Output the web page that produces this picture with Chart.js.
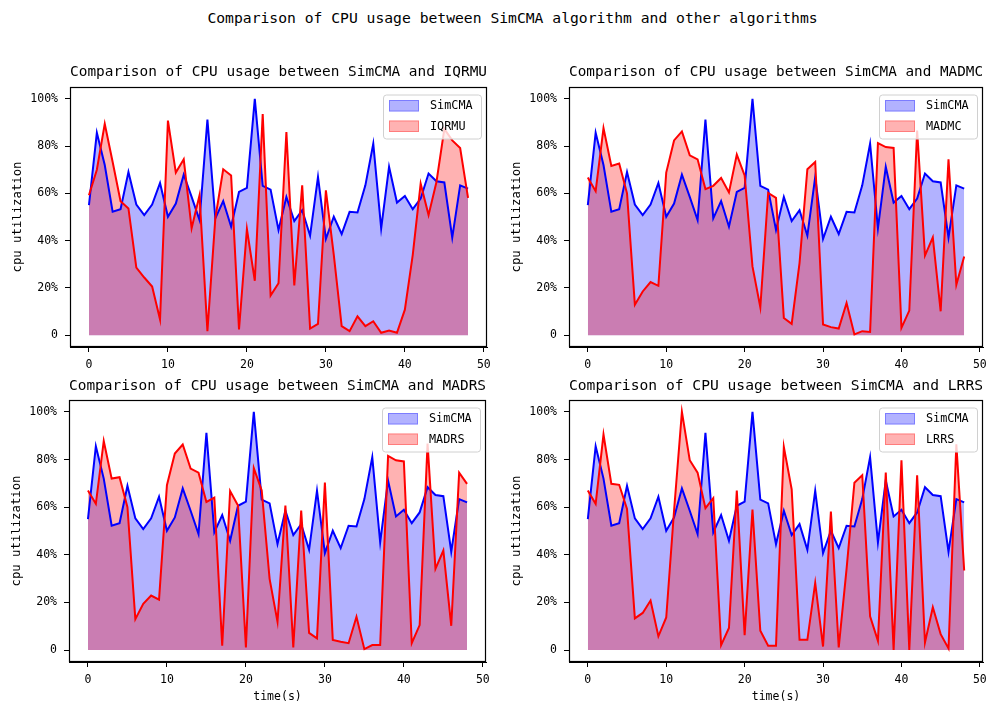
<!DOCTYPE html>
<html>
<head>
<meta charset="utf-8">
<script src="https://cdn.jsdelivr.net/npm/chart.js@4.4.1/dist/chart.umd.min.js"></script>
<style>
  html, body { margin: 0; padding: 0; background: #fff; overflow: hidden; width: 989px; height: 701px; }
  #sup { position: absolute; left: 0; top: 9px; width: 1025px; text-align: center;
         font: 14.7px "DejaVu Sans Mono", monospace; line-height: 18px; color: #000; white-space: pre; }
  canvas { position: absolute; }
</style>
</head>
<body>
<div id="sup">Comparison of CPU usage between SimCMA algorithm and other algorithms</div>
<canvas id="c1"></canvas>
<canvas id="c2"></canvas>
<canvas id="c3"></canvas>
<canvas id="c4"></canvas>
<script>
// time axis (seconds)
const timeSec = [0, 1, 2, 3, 4, 5, 6, 7, 8, 9, 10, 11, 12, 13, 14, 15, 16, 17, 18, 19, 20,
  21, 22, 23, 24, 25, 26, 27, 28, 29, 30, 31, 32, 33, 34, 35, 36, 37, 38, 39, 40,
  41, 42, 43, 44, 45, 46, 47, 48];

// CPU utilization (%) per algorithm
const simcma = [55, 85.6, 72, 52.2, 53.3, 69, 55.3, 50.8, 55.3, 64.4, 50.1, 55.7, 67.9, 58.5, 48.7,
  91.2, 49.4, 56.7, 45.9, 60.6, 62.3, 100, 63.2, 61.6, 44.5, 58.5, 48.3, 52.9, 42.1, 66.9,
  40.7, 50.1, 42.8, 52.2, 51.9, 63.4, 81, 45.2, 71.2, 56.1, 58.9, 53.3, 57.8, 68.4, 65.1,
  64.6, 41.3, 63.4, 62];
const iqrmu = [59.2, 70, 89.4, 73.3, 56.7, 53.6, 28.6, 24.4, 20.6, 6.6, 90.8, 68.8, 74.4, 45.2, 59.2,
  1.7, 49.4, 70.2, 67.6, 2.4, 44.9, 23, 93.6, 16.8, 22, 85.9, 21, 63.4, 2.8, 4.8,
  61.3, 34, 3.8, 1.7, 8, 3.8, 5.9, 1, 2, 1, 10.8, 34, 64.1, 50.8, 64.8,
  87.3, 82.4, 79.2, 58.1];
const madmc = [66.7, 60.9, 87.6, 71.6, 72.6, 60, 12.9, 18.5, 22.5, 20.9, 68.8, 82.4, 86.2, 76.1, 74.4,
  61.8, 63.2, 66.5, 60.4, 76.4, 67.6, 29.1, 11.8, 60.2, 58.1, 7.3, 4.8, 30.5, 70.2, 73.3,
  4.5, 3.4, 2.8, 13.6, 0.3, 1.7, 1.4, 81.3, 79.6, 79.2, 3.1, 10.4, 86.6, 33.7, 41.4,
  10.1, 74.4, 21.3, 33.3];
const madrs = [67, 61.4, 87.8, 72, 72.6, 60, 13, 19.4, 22.9, 21.2, 69.2, 82.5, 86.3, 76.2, 74.5,
  62.2, 64, 1.8, 66.8, 60.7, 1.1, 76.4, 67, 29.9, 11.9, 60.7, 1.1, 58.6, 7.2, 4.9,
  70.3, 4.3, 3.5, 2.9, 14, 0.4, 2.1, 2.1, 81.5, 79.7, 79.2, 2.9, 10.5, 86.7, 34.1,
  41.8, 10.2, 74.5, 69.8];
const lrrs = [67, 61.4, 90.5, 69.8, 69.4, 59.3, 13.3, 15.6, 20.8, 5.8, 13.7, 58.6, 100, 79.7, 74.5,
  59.6, 63.8, 2.1, 9.3, 67, 6.3, 59, 8.1, 1.8, 1.8, 85.3, 67.5, 4.3, 4.3, 28.2,
  1.5, 58.2, 1.1, 34.1, 70.3, 73.4, 14.2, 3.9, 74.5, 0.1, 79.7, 0.1, 73.4, 3.2, 18,
  6.7, 0.7, 86.4, 33.4];

// axis ticks
const xTicks = [0, 10, 20, 30, 40, 50];
const yTicks = [0, 20, 40, 60, 80, 100];
const yTickLabels = ['0', '20%', '40%', '60%', '80%', '100%'];

const MONO = '"DejaVu Sans Mono", monospace';
const BLUE = '#0000ff', RED = '#ff0000';
const BLUE_FILL = 'rgba(0,0,255,0.3)', RED_FILL = 'rgba(255,0,0,0.3)';

const toPoints = vals => vals.map((v, i) => ({ x: timeSec[i], y: v }));

// full box of spines around the plotting area
const frame = {
  id: 'frame',
  afterDraw(chart) {
    const { ctx, chartArea: a } = chart;
    ctx.save();
    ctx.strokeStyle = '#000';
    ctx.lineWidth = 1.2;
    ctx.strokeRect(Math.round(a.left) + 0.5, Math.round(a.top) + 0.5,
      Math.round(a.right - a.left) - 1, Math.round(a.bottom - a.top) - 1);
    ctx.restore();
  }
};

// framed legend sitting in the upper right corner of the plotting area
const boxLegend = {
  id: 'boxLegend',
  afterDraw(chart) {
    const { ctx, chartArea: a } = chart;
    const w = 98, h = 44;
    const x = a.right - 6 - w, y = a.top + 7.5;
    ctx.save();
    ctx.beginPath();
    ctx.roundRect(x + 0.5, y + 0.5, w, h, 3);
    ctx.fillStyle = 'rgba(255,255,255,0.8)';
    ctx.fill();
    ctx.strokeStyle = '#d0d0d0';
    ctx.lineWidth = 1;
    ctx.stroke();
    chart.data.datasets.forEach((ds, i) => {
      const cy = y + 11.5 + i * 20.5;
      ctx.fillStyle = ds.backgroundColor;
      ctx.fillRect(x + 6, cy - 6, 30, 11.5);
      ctx.strokeStyle = ds.backgroundColor;
      ctx.strokeRect(x + 6.5, cy - 5.5, 29, 10.5);
      ctx.fillStyle = '#000';
      ctx.font = '11.8px ' + MONO;
      ctx.textBaseline = 'middle';
      ctx.textAlign = 'left';
      ctx.fillText(ds.label, x + 47, cy);
    });
    ctx.restore();
  }
};

const panels = [
  { id: 'c1', name: 'IQRMU', vals: iqrmu, left: 0, top: 47, w: 497, h: 340, titleTop: 16.2, xTitle: false, xAxisH: 40 },
  { id: 'c2', name: 'MADMC', vals: madmc, left: 499, top: 47, w: 494, h: 340, titleTop: 16.2, xTitle: false, xAxisH: 40 },
  { id: 'c3', name: 'MADRS', vals: madrs, left: -1, top: 360, w: 497, h: 344, titleTop: 17.2, xTitle: true, xAxisH: 42 },
  { id: 'c4', name: 'LRRS', vals: lrrs, left: 499, top: 360, w: 494, h: 344, titleTop: 17.2, xTitle: true, xAxisH: 42 }
];

const tickGrid = { display: true, drawOnChartArea: false, drawTicks: true, tickLength: 5, tickColor: '#000', tickWidth: 1 };
const axisBorder = { display: true, color: '#000', width: 1 };

panels.forEach(p => {
  const cv = document.getElementById(p.id);
  cv.width = p.w; cv.height = p.h;
  cv.style.left = p.left + 'px'; cv.style.top = p.top + 'px';
  cv.style.width = p.w + 'px'; cv.style.height = p.h + 'px';

  new Chart(cv, {
    type: 'line',
    data: {
      datasets: [
        { label: 'SimCMA', data: toPoints(simcma), borderColor: BLUE, backgroundColor: BLUE_FILL,
          borderWidth: 2, fill: 'origin', order: 2 },
        { label: p.name, data: toPoints(p.vals), borderColor: RED, backgroundColor: RED_FILL,
          borderWidth: 2, fill: 'origin', order: 1 }
      ]
    },
    options: {
      responsive: false,
      animation: false,
      devicePixelRatio: 1,
      layout: { padding: { left: 0, right: 10, top: 0, bottom: 0 } },
      elements: { point: { radius: 0, hoverRadius: 0 }, line: { tension: 0 } },
      plugins: {
        legend: { display: false },
        tooltip: { enabled: false },
        filler: { drawTime: 'beforeDatasetsDraw' },
        title: {
          display: true, fullSize: false, align: 'center',
          text: 'Comparison of CPU usage between SimCMA and ' + p.name,
          color: '#000', font: { family: MONO, size: 14.7, weight: 'normal', lineHeight: 1.2 },
          padding: { top: p.titleTop, bottom: 40 - p.titleTop - 14.7 * 1.2 }
        }
      },
      scales: {
        x: {
          type: 'linear', min: -2.4, max: 50.4,
          afterBuildTicks: s => { s.ticks = xTicks.map(v => ({ value: v })); },
          afterFit: s => { s.height = p.xAxisH; },
          ticks: { color: '#000', font: { family: MONO, size: 11.5 }, padding: 6, maxRotation: 0, autoSkip: false,
                   callback: v => String(v) },
          grid: tickGrid, border: axisBorder,
          title: { display: p.xTitle, text: 'time(s)', color: '#000',
                   font: { family: MONO, size: 11.5, lineHeight: 1.2 }, padding: { top: 0, bottom: 0 } }
        },
        y: {
          type: 'linear', min: -5, max: 105,
          afterBuildTicks: s => { s.ticks = yTicks.map(v => ({ value: v })); },
          afterFit: s => { s.width = 70; },
          ticks: { color: '#000', font: { family: MONO, size: 11.5 }, padding: 7, autoSkip: false,
                   callback: v => yTickLabels[yTicks.indexOf(v)] },
          grid: tickGrid, border: axisBorder,
          title: { display: true, text: 'cpu utilization', color: '#000',
                   font: { family: MONO, size: 12.3, lineHeight: 1.2 }, padding: { top: 10, bottom: 0 } }
        }
      }
    },
    plugins: [frame, boxLegend]
  });
});
</script>
</body>
</html>
